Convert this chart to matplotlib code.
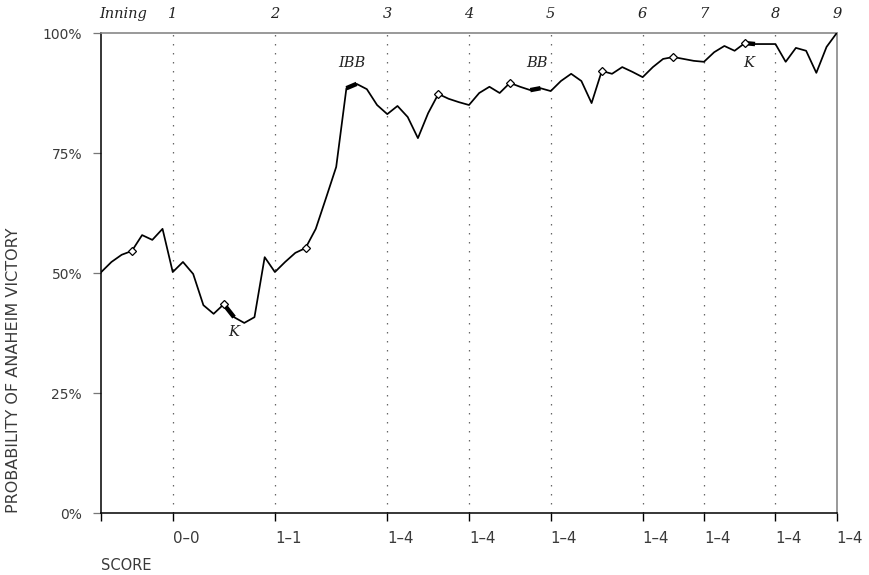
import matplotlib.pyplot as plt
import matplotlib.transforms as mtransforms
import numpy as np

# Anaheim win probability (%) after each plate appearance
prob = [50.2, 52.3, 53.8, 54.6, 57.9, 56.9, 59.2, 50.2, 52.3, 49.8,
        43.3, 41.5, 43.5, 40.8, 39.6, 40.8, 53.3, 50.2, 52.3, 54.2,
        55.2, 59.2, 65.6, 72.1, 88.5, 89.4, 88.3, 85.0, 83.1, 84.8,
        82.5, 78.1, 83.3, 87.3, 86.3, 85.6, 85.0, 87.5, 88.8, 87.5,
        89.6, 88.8, 88.1, 88.5, 87.9, 90.0, 91.5, 90.0, 85.4, 92.1,
        91.5, 92.9, 91.9, 90.8, 92.9, 94.6, 95.0, 94.6, 94.2, 94.0,
        96.0, 97.3, 96.3, 97.9, 97.7, 97.7, 97.7, 94.0, 96.9, 96.3,
        91.7, 97.1, 100.0]
pa = np.arange(len(prob))

# plate appearance at which each inning ends
inning_end = [7, 17, 28, 36, 44, 53, 59, 66, 72]
inning_labels = ['1', '2', '3', '4', '5', '6', '7', '8', '9']
score_ticks = [0] + inning_end
score_labels = ['', '0–0', '1–1', '1–4', '1–4', '1–4', '1–4', '1–4', '1–4', '1–4']

# open diamonds on the line
marked = [3, 12, 20, 33, 40, 49, 56, 63]

# key plays: thick segment starting at that plate appearance + label
key_pa = [12, 24, 42, 63]
key_text = ['K', 'IBB', 'BB', 'K']
key_x = [13.0, 24.55, 42.66, 63.4]
key_y = [37.7, 93.75, 93.75, 93.75]

prob = np.array(prob)

fig = plt.figure(figsize=(8.69, 5.75), dpi=100)
ax = fig.add_axes([0.1165, 0.1078, 0.8464, 0.8348])

for e in inning_end[:-1]:
    ax.axvline(e, color='#666666', lw=0.9, ls=(0, (1.2, 6)), zorder=1)

ax.plot(pa, prob, color='black', lw=1.25, zorder=3)
for k in key_pa:
    ax.plot(pa[k:k + 2], prob[k:k + 2], color='black', lw=3.2,
            solid_capstyle='butt', zorder=3)
ax.plot(pa[marked], prob[marked], 'D', ms=4.3, mfc='white', mec='black',
        mew=0.9, zorder=5, clip_on=False)

serif = dict(family='DejaVu Serif', style='italic', size=10.5, color='#222222')
for t, x, y in zip(key_text, key_x, key_y):
    ax.text(x, y, t, ha='center', va='center', **serif)

trans = mtransforms.blended_transform_factory(ax.transData, ax.transAxes)
ax.text(-0.2, 1.0396, 'Inning', transform=trans, ha='left', va='center', **serif)
for e, lab in zip(inning_end, inning_labels):
    ax.text(e, 1.0396, lab, transform=trans, ha='center', va='center', **serif)

ax.set_xlim(0, 72)
ax.set_ylim(0, 100)

ax.spines['top'].set_color('#888888')
ax.spines['top'].set_linewidth(1.2)
ax.spines['right'].set_color('#888888')
ax.spines['right'].set_linewidth(1.2)
ax.spines['left'].set_linewidth(1.1)
ax.spines['bottom'].set_linewidth(1.1)

ax.set_yticks([0, 25, 50, 75, 100])
ax.set_yticklabels(['0%', '25%', '50%', '75%', '100%'])
ax.tick_params(axis='y', direction='out', length=5.8, width=0.9,
               color='#777777', labelcolor='#3a3a3a', labelsize=10, pad=8)

ax.set_xticks(score_ticks)
ax.set_xticklabels(score_labels)
ax.tick_params(axis='x', direction='out', length=5.8, width=1.0,
               color='black', labelcolor='#3a3a3a', labelsize=10.8, pad=7)
for lab in ax.get_xticklabels():
    lab.set_horizontalalignment('left')
ax.xaxis.get_major_ticks()[-1].tick1line.set_color('#888888')

fig.text(101 / 869, 1 - 565 / 575, 'SCORE', ha='left', va='center',
         size=10.5, color='#3a3a3a')
fig.text(14 / 869, 1 - 370 / 575, 'PROBABILITY OF ANAHEIM VICTORY',
         rotation=90, ha='center', va='center', size=11.5, color='#3a3a3a')

fig.savefig('out.png', dpi=100)
